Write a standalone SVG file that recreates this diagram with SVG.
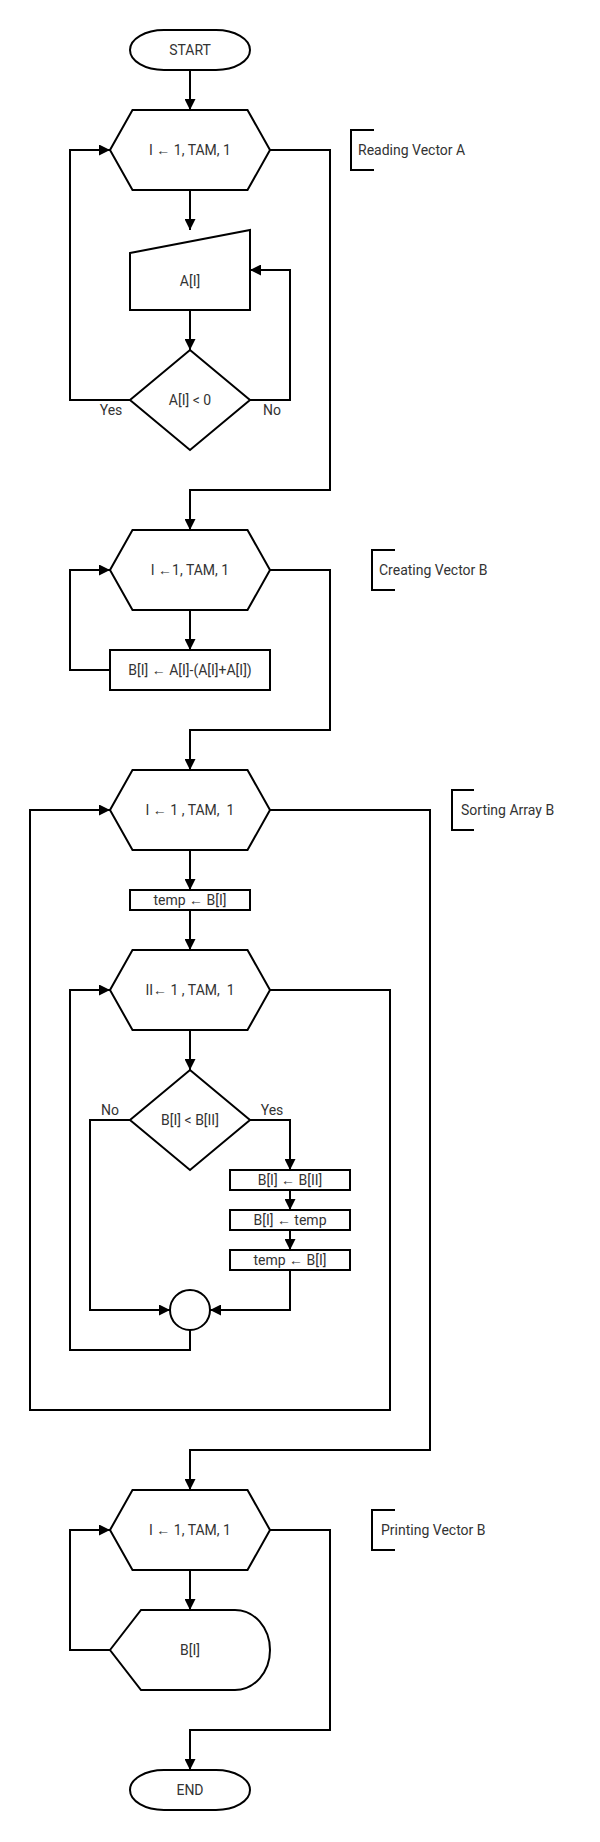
<svg xmlns="http://www.w3.org/2000/svg" width="600" height="1842" viewBox="0 0 600 1842">
<style>
.s{fill:#fff;stroke:#000;stroke-width:2}
.c{fill:none;stroke:#000;stroke-width:2;marker-end:url(#ah)}
.n{fill:none;stroke:#000;stroke-width:2}
.t{font-family:Roboto,"Liberation Sans",sans-serif;font-size:14px;fill:#333;text-anchor:middle;white-space:pre}
.a{font-family:Roboto,"Liberation Sans",sans-serif;font-size:14px;fill:#333;white-space:pre}
</style>
<defs>
<marker id="ah" markerUnits="userSpaceOnUse" markerWidth="11" markerHeight="11" refX="10" refY="5" orient="auto" viewBox="0 0 10 10">
<path d="M0,0 L10,5 L0,10 z" fill="#000"/>
</marker>
</defs>
<rect width="600" height="1842" fill="#fff"/>
<g id="connectors">
<path class="c" d="M190,70 V110"/>
<path class="c" d="M190,190 V230"/>
<path class="c" d="M190,310 V350"/>
<path class="c" d="M130,400 H70 V150 H110"/>
<path class="c" d="M250,400 H290 V270 H250"/>
<path class="c" d="M270,150 H330 V490 H190 V530"/>
<path class="c" d="M190,610 V650"/>
<path class="c" d="M110,670 H70 V570 H110"/>
<path class="c" d="M270,570 H330 V730 H190 V770"/>
<path class="c" d="M190,850 V890"/>
<path class="c" d="M190,910 V950"/>
<path class="c" d="M190,1030 V1070"/>
<path class="c" d="M130,1120 H90 V1310 H170"/>
<path class="c" d="M250,1120 H290 V1170"/>
<path class="c" d="M290,1190 V1210"/>
<path class="c" d="M290,1230 V1250"/>
<path class="c" d="M290,1270 V1310 H210"/>
<path class="c" d="M190,1330 V1350 H70 V990 H110"/>
<path class="c" d="M270,990 H390 V1410 H30 V810 H110"/>
<path class="c" d="M270,810 H430 V1450 H190 V1490"/>
<path class="c" d="M190,1570 V1610"/>
<path class="c" d="M110,1650 H70 V1530 H110"/>
<path class="c" d="M270,1530 H330 V1730 H190 V1770"/>
</g>
<g id="start">
<rect class="s" x="130" y="30" width="120" height="40" rx="34" ry="20"/>
<text class="t" x="190" y="55">START</text>
</g>
<g id="loop1">
<polygon class="s" points="110,150 132.5,110 247.5,110 270,150 247.5,190 132.5,190"/>
<text class="t" x="190" y="155">I ← 1, TAM, 1</text>
</g>
<g id="note1">
<path class="n" d="M374,130 H351 V170 H374"/>
<text class="a" x="358" y="155">Reading Vector A</text>
</g>
<g id="inputA">
<polygon class="s" points="130,253 250,230 250,310 130,310"/>
<text class="t" x="190" y="286">A[I]</text>
</g>
<g id="dec1">
<polygon class="s" points="190,350 250,400 190,450 130,400"/>
<text class="t" x="190" y="405">A[I] &lt; 0</text>
<text class="t" x="111" y="415">Yes</text>
<text class="t" x="272" y="415">No</text>
</g>
<g id="loop2">
<polygon class="s" points="110,570 132.5,530 247.5,530 270,570 247.5,610 132.5,610"/>
<text class="t" x="190" y="575">I ←1, TAM, 1</text>
</g>
<g id="note2">
<path class="n" d="M395,550 H372 V590 H395"/>
<text class="a" x="379" y="575">Creating Vector B</text>
</g>
<g id="calcB">
<rect class="s" x="110" y="650" width="160" height="40"/>
<text class="t" x="190" y="675">B[I] ← A[I]-(A[I]+A[I])</text>
</g>
<g id="loop3">
<polygon class="s" points="110,810 132.5,770 247.5,770 270,810 247.5,850 132.5,850"/>
<text class="t" x="190" y="815">I ← 1 , TAM,  1</text>
</g>
<g id="note3">
<path class="n" d="M474,790 H452 V830 H474"/>
<text class="a" x="461" y="815">Sorting Array B</text>
</g>
<g id="temp1">
<rect class="s" x="130" y="890" width="120" height="20"/>
<text class="t" x="190" y="905">temp ← B[I]</text>
</g>
<g id="loop4">
<polygon class="s" points="110,990 132.5,950 247.5,950 270,990 247.5,1030 132.5,1030"/>
<text class="t" x="190" y="995">II← 1 , TAM,  1</text>
</g>
<g id="dec2">
<polygon class="s" points="190,1070 250,1120 190,1170 130,1120"/>
<text class="t" x="190" y="1125">B[I] &lt; B[II]</text>
<text class="t" x="110" y="1115">No</text>
<text class="t" x="272" y="1115">Yes</text>
</g>
<g id="swap1">
<rect class="s" x="230" y="1170" width="120" height="20"/>
<text class="t" x="290" y="1185">B[I] ← B[II]</text>
</g>
<g id="swap2">
<rect class="s" x="230" y="1210" width="120" height="20"/>
<text class="t" x="290" y="1225">B[I] ← temp</text>
</g>
<g id="swap3">
<rect class="s" x="230" y="1250" width="120" height="20"/>
<text class="t" x="290" y="1265">temp ← B[I]</text>
</g>
<g id="join">
<circle class="s" cx="190" cy="1310" r="20"/>
</g>
<g id="loop5">
<polygon class="s" points="110,1530 132.5,1490 247.5,1490 270,1530 247.5,1570 132.5,1570"/>
<text class="t" x="190" y="1535">I ← 1, TAM, 1</text>
</g>
<g id="note4">
<path class="n" d="M395,1510 H372 V1550 H395"/>
<text class="a" x="381" y="1535">Printing Vector B</text>
</g>
<g id="display">
<path class="s" d="M110,1650 L141,1610 H235 A35,40 0 0 1 235,1690 H141 Z"/>
<text class="t" x="190" y="1655">B[I]</text>
</g>
<g id="end">
<rect class="s" x="130" y="1770" width="120" height="40" rx="34" ry="20"/>
<text class="t" x="190" y="1795">END</text>
</g>
</svg>
